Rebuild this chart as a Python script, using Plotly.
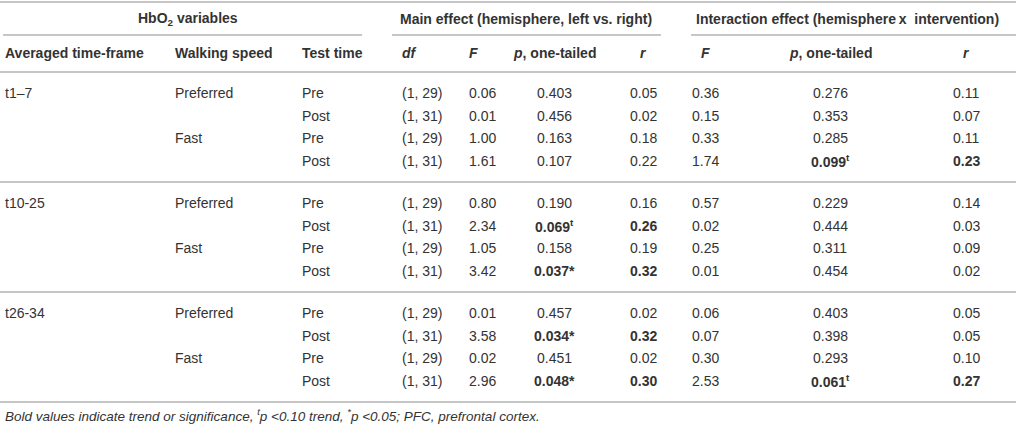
import plotly.graph_objects as go

# table content
timeframes = ["t1–7", "t10-25", "t26-34"]
speeds = ["Preferred", "Fast"]
test_times = ["Pre", "Post"]
df_labels = ["(1, 29)", "(1, 31)"]

main_F = [0.06, 0.01, 1.00, 1.61, 0.80, 2.34, 1.05, 3.42, 0.01, 3.58, 0.02, 2.96]
main_p = [0.403, 0.456, 0.163, 0.107, 0.190, 0.069, 0.158, 0.037, 0.457, 0.034, 0.451, 0.048]
main_r = [0.05, 0.02, 0.18, 0.22, 0.16, 0.26, 0.19, 0.32, 0.02, 0.32, 0.02, 0.30]
int_F = [0.36, 0.15, 0.33, 1.74, 0.57, 0.02, 0.25, 0.01, 0.06, 0.07, 0.30, 2.53]
int_p = [0.276, 0.353, 0.285, 0.099, 0.229, 0.444, 0.311, 0.454, 0.403, 0.398, 0.293, 0.061]
int_r = [0.11, 0.07, 0.11, 0.23, 0.14, 0.03, 0.09, 0.02, 0.05, 0.05, 0.10, 0.27]

group_headers = ["HbO<sub>2</sub> variables", "Main effect (hemisphere, left vs. right)",
                 "Interaction effect (hemisphere\u2009x  intervention)"]
col_headers = ["Averaged time-frame", "Walking speed", "Test time", "<i>df</i>", "<i>F</i>",
               "<i>p</i>, one-tailed", "<i>r</i>", "<i>F</i>", "<i>p</i>, one-tailed", "<i>r</i>"]
footnote = ("<i>Bold values indicate trend or significance, <sup>t</sup>p &lt;0.10 trend, "
            "<sup>*</sup>p &lt;0.05; PFC, prefrontal cortex.</i>")

W, H = 1016, 427
TXT = "#333333"
LINE = "#c6c6c6"
FONT = "Liberation Sans, Arial, sans-serif"
FS = 14

# column anchors (x, xanchor)
cols = [(3, "left"), (173, "left"), (300, "left"), (400, "left"), (467, "left"),
        (554, "center"), (643, "center"), (705, "center"), (830, "center"), (966, "center")]

y_head1, y_head2 = 19, 53
y_lines = [2, 72, 182, 292, 402]
row_off, row_step = 21, 22.7

fig = go.Figure()
fig.add_trace(go.Scatter(x=[0, W], y=[0, H], mode="markers", marker=dict(opacity=0),
                         hoverinfo="skip", showlegend=False))

anns = []


def txt(x, y, s, anchor="left", bold=False, size=FS):
    anns.append(dict(x=x, y=y, text=f"<b>{s}</b>" if bold else s, showarrow=False,
                     xanchor=anchor, yanchor="middle", font=dict(family=FONT, size=size, color=TXT)))


def pmark(p):
    if p < 0.05:
        return f"{p:.3f}*"
    if p < 0.10:
        return f"{p:.3f}<sup>t</sup>"
    return f"{p:.3f}"


# group headers and partial underlines
for s, xc in zip(group_headers, [188, 526, 847]):
    txt(xc, y_head1, s, "center", bold=True)
for x0, x1 in [(3, 362), (392, 661), (691, W)]:
    fig.add_shape(type="line", x0=x0, x1=x1, y0=35, y1=35, line=dict(color=LINE, width=2))

for s, (x, a) in zip(col_headers, cols):
    txt(x, y_head2, s, a, bold=True)

for y in y_lines:
    fig.add_shape(type="line", x0=0, x1=W, y0=y, y1=y, line=dict(color=LINE, width=2))

i = 0
for g, tf in enumerate(timeframes):
    for si, sp in enumerate(speeds):
        for ti, tt in enumerate(test_times):
            y = y_lines[g + 1] + row_off + (si * 2 + ti) * row_step
            if si == 0 and ti == 0:
                txt(cols[0][0], y, tf)
            if ti == 0:
                txt(cols[1][0], y, sp)
            txt(cols[2][0], y, tt)
            txt(cols[3][0], y, df_labels[ti])
            txt(cols[4][0], y, f"{main_F[i]:.2f}")
            sig = main_p[i] < 0.10
            txt(cols[5][0], y, pmark(main_p[i]), "center", bold=sig)
            txt(cols[6][0], y, f"{main_r[i]:.2f}", "center", bold=sig)
            txt(cols[7][0], y, f"{int_F[i]:.2f}", "center")
            sig = int_p[i] < 0.10
            txt(cols[8][0], y, pmark(int_p[i]), "center", bold=sig)
            txt(cols[9][0], y, f"{int_r[i]:.2f}", "center", bold=sig)
            i += 1

txt(3, 415, footnote, size=13.5)

fig.update_layout(
    width=W, height=H,
    margin=dict(l=0, r=0, t=0, b=0),
    paper_bgcolor="white", plot_bgcolor="white",
    xaxis=dict(range=[0, W], visible=False, fixedrange=True),
    yaxis=dict(range=[H, 0], visible=False, fixedrange=True),
    annotations=anns,
    showlegend=False,
)

fig.write_html("out.html", config={"displayModeBar": False},
               post_script="document.body.style.margin='0';")
